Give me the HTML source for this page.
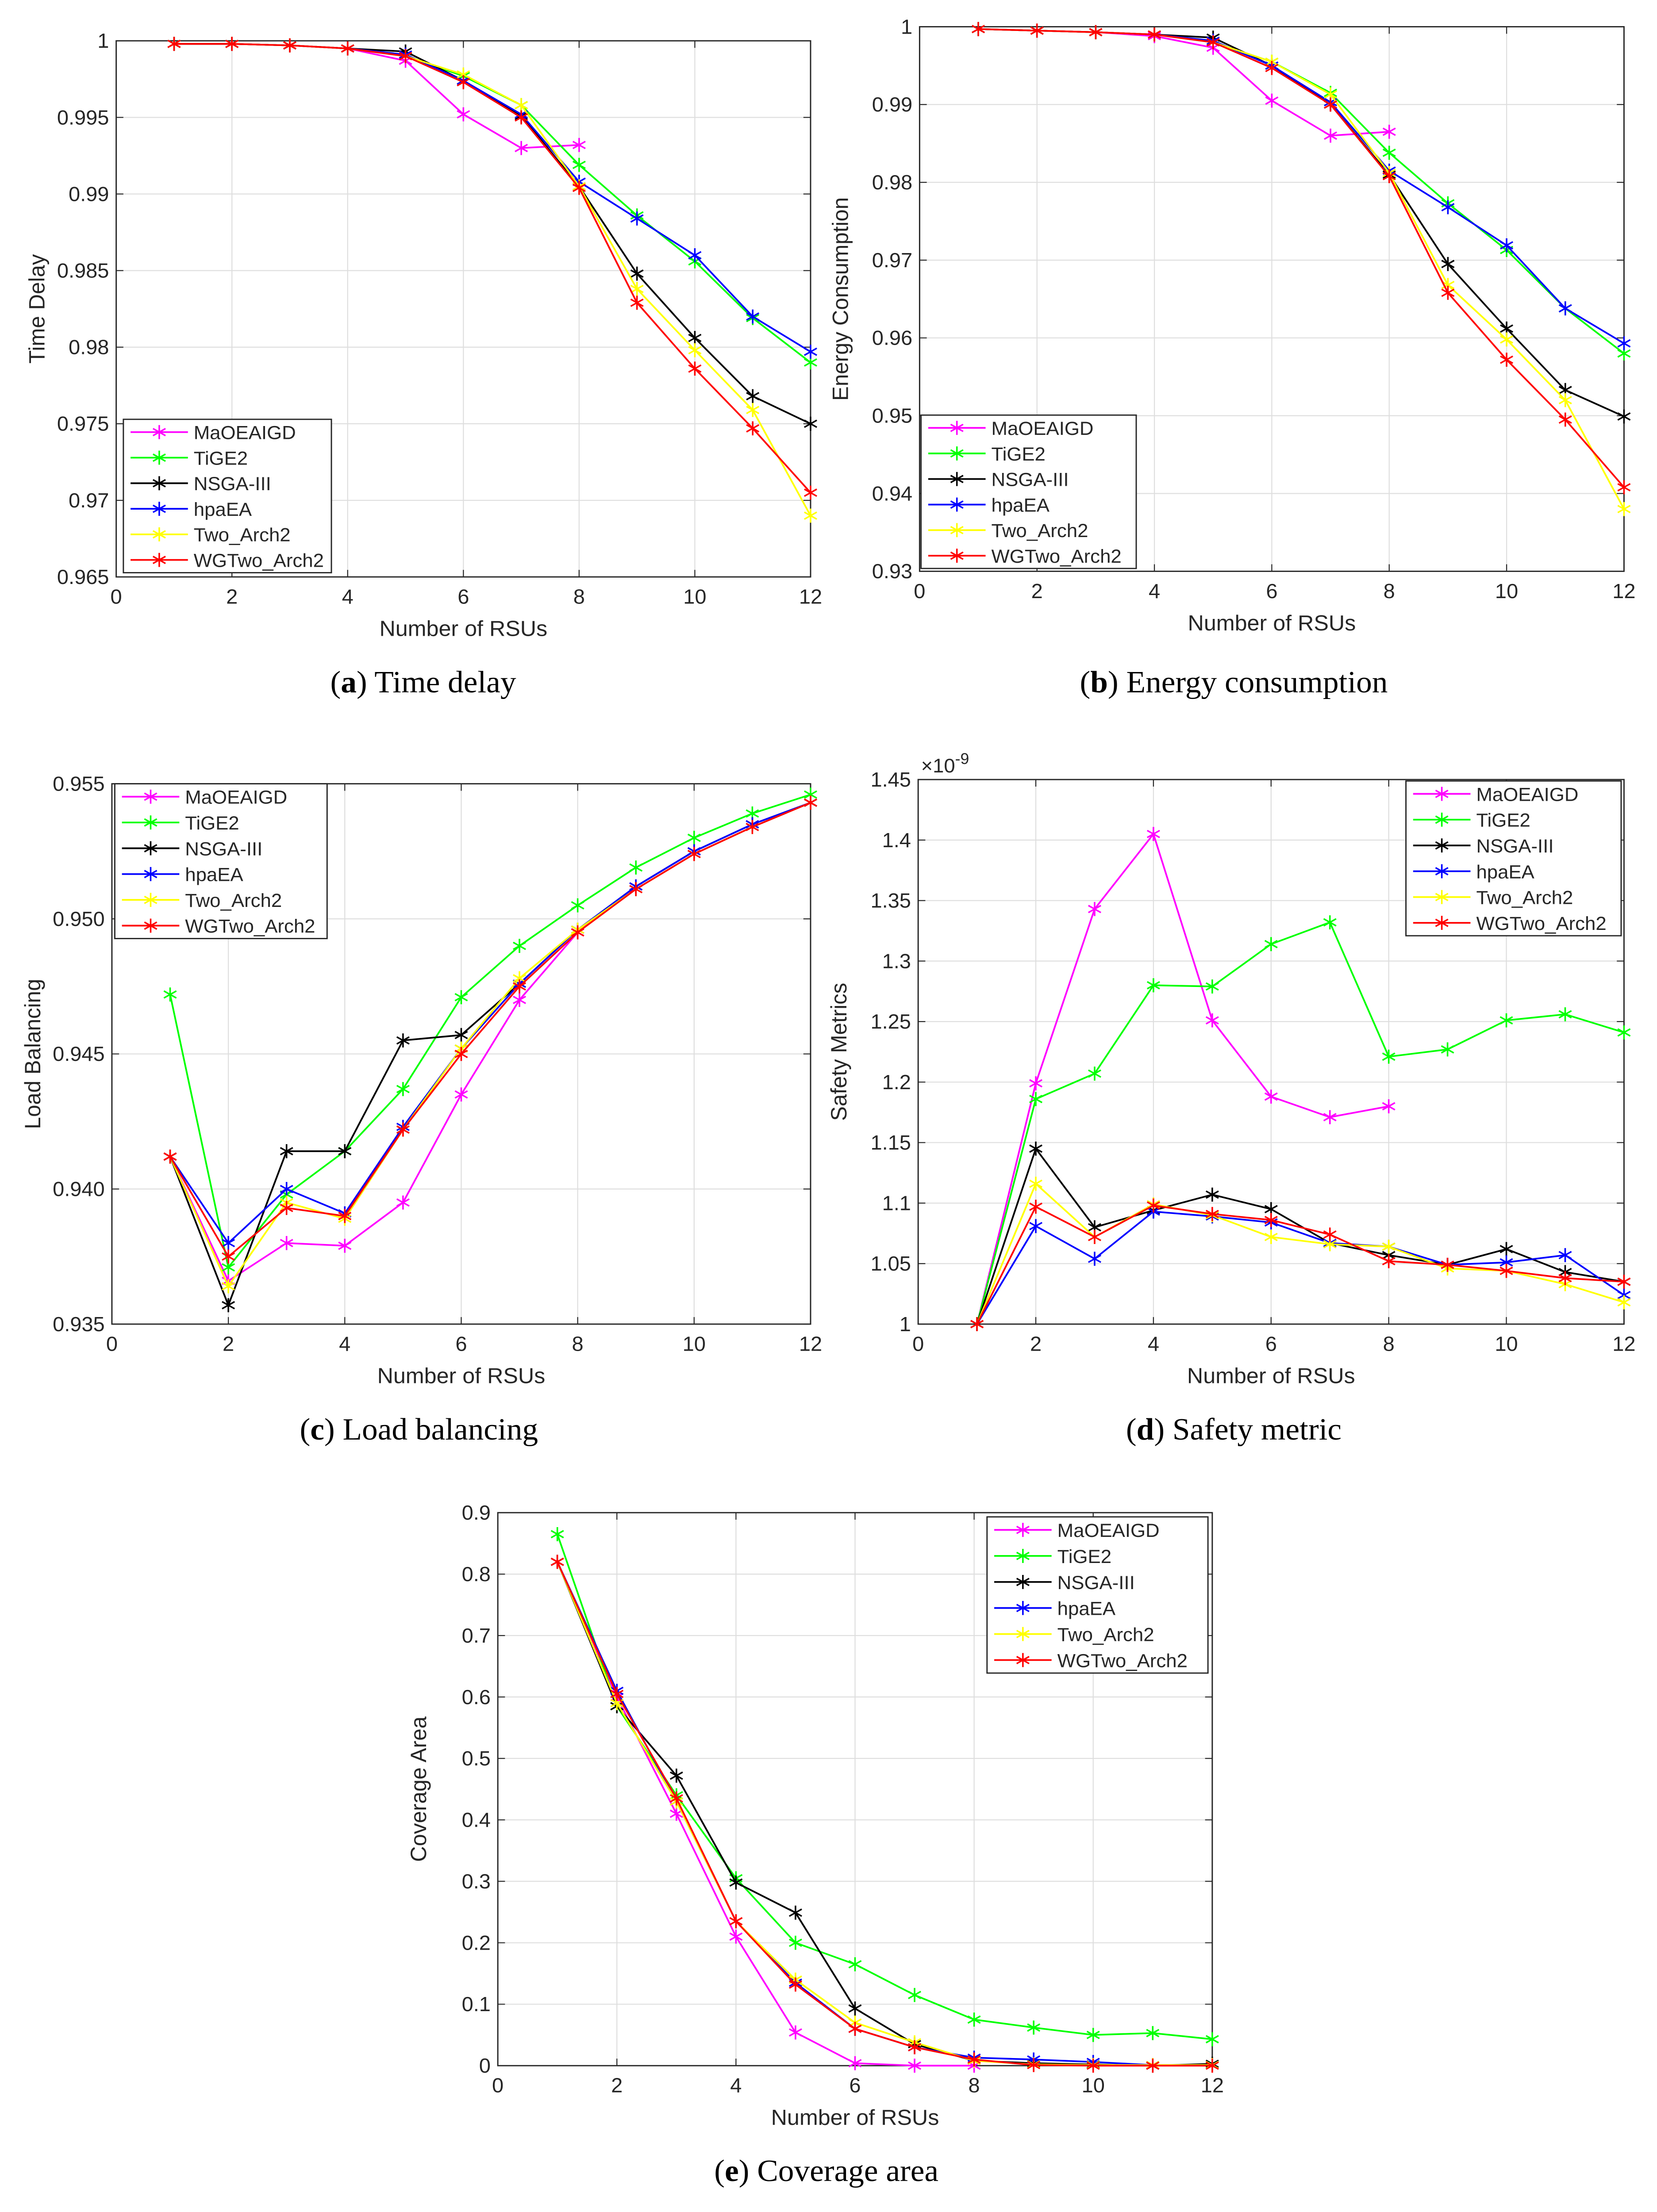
<!DOCTYPE html>
<html><head><meta charset="utf-8"><style>
html,body{margin:0;padding:0;background:#fff;overflow:hidden;width:100%;height:100%;}
svg{display:block;position:absolute;left:0;top:0;width:100vw;height:100vh;}
text{font-family:"Liberation Sans",Arial,sans-serif;fill:#262626;}
.cap{font-family:"Liberation Serif",serif;fill:#000;}
</style></head><body>
<svg id="fig" xmlns="http://www.w3.org/2000/svg" viewBox="0 0 1155 1572" preserveAspectRatio="none"></svg>
<script>
const names = ["MaOEAIGD","TiGE2","NSGA-III","hpaEA","Two_Arch2","WGTwo_Arch2"];
const colors = ["#ff00ff","#00ff00","#000000","#0000ff","#ffff00","#ff0000"];
const xTicks = [0,2,4,6,8,10,12];

const aMa=[.9998,.9998,.9997,.9995,.9987,.9952,.9930,.9932];
const aTi=[.9998,.9998,.9997,.9995,.9990,.9977,.9958,.9919,.9886,.9856,.9819,.9790];
const aNs=[.9998,.9998,.9997,.9995,.9993,.9974,.9951,.9905,.9848,.9806,.9768,.9750];
const aHp=[.9998,.9998,.9997,.9995,.9991,.9974,.9952,.9908,.9884,.9860,.9820,.9797];
const aTw=[.9998,.9998,.9997,.9995,.9990,.9978,.9958,.9905,.9838,.9798,.9759,.9690];
const aWg=[.9998,.9998,.9997,.9995,.9990,.9973,.9950,.9904,.9829,.9786,.9747,.9705];
const aTicks=[0.965,0.97,0.975,0.98,0.985,0.99,0.995,1];

const bMa=[.9997,.9995,.9993,.9988,.9973,.9905,.9860,.9865];
const bTi=[.9997,.9995,.9993,.9990,.9980,.9955,.9915,.9838,.9773,.9713,.9638,.9580];
const bNs=[.9997,.9995,.9993,.9990,.9986,.9950,.9900,.9810,.9695,.9612,.9533,.9499];
const bHp=[.9997,.9995,.9993,.9990,.9982,.9950,.9903,.9815,.9768,.9719,.9638,.9593];
const bTw=[.9997,.9995,.9993,.9990,.9980,.9955,.9913,.9812,.9668,.9598,.9520,.9380];
const bWg=[.9997,.9995,.9993,.9990,.9980,.9947,.9900,.9808,.9658,.9572,.9495,.9408];
const bTicks=[0.93,0.94,0.95,0.96,0.97,0.98,0.99,1];

const cMa=[.9412,.9366,.9380,.9379,.9395,.9435,.9470,.9495,.9512,.9525,.9535,.9543];
const cTi=[.9472,.9371,.9398,.9414,.9437,.9471,.9490,.9505,.9519,.9530,.9539,.9546];
const cNs=[.9412,.9357,.9414,.9414,.9455,.9457,.9476,.9496,.9512,.9525,.9535,.9543];
const cHp=[.9412,.9380,.9400,.9391,.9423,.9452,.9476,.9496,.9512,.9525,.9535,.9543];
const cTw=[.9412,.9364,.9395,.9389,.9422,.9452,.9478,.9496,.9511,.9524,.9534,.9543];
const cWg=[.9412,.9375,.9393,.9390,.9422,.9450,.9475,.9495,.9511,.9524,.9534,.9543];
const cTicks=[0.935,0.94,0.945,0.95,0.955];

const dMa=[1,1.199,1.343,1.405,1.251,1.188,1.171,1.180];
const dTi=[1,1.186,1.207,1.280,1.279,1.314,1.332,1.221,1.227,1.251,1.256,1.241];
const dNs=[1,1.145,1.080,1.094,1.107,1.095,1.067,1.057,1.049,1.062,1.043,1.035];
const dHp=[1,1.081,1.054,1.093,1.089,1.084,1.067,1.064,1.049,1.051,1.057,1.024];
const dTw=[1,1.116,1.072,1.099,1.090,1.072,1.066,1.064,1.046,1.044,1.033,1.018];
const dWg=[1,1.097,1.072,1.098,1.091,1.086,1.074,1.052,1.049,1.044,1.038,1.035];
const dTicks=[1,1.05,1.1,1.15,1.2,1.25,1.3,1.35,1.4,1.45];

const eMa=[.82,.60,.41,.21,.054,.004,0,0];
const eTi=[.865,.585,.44,.305,.20,.165,.115,.075,.062,.05,.053,.043];
const eNs=[.82,.585,.472,.298,.249,.093,.035,.008,.004,.002,0,.003];
const eHp=[.82,.61,.43,.235,.135,.06,.03,.013,.01,.006,.001,.001];
const eTw=[.82,.59,.43,.235,.14,.07,.038,.008,.002,.001,.001,.001];
const eWg=[.82,.605,.435,.235,.132,.06,.03,.01,.001,0,0,0];
const eTicks=[0,0.1,0.2,0.3,0.4,0.5,0.6,0.7,0.8,0.9];

const NS="http://www.w3.org/2000/svg";
const svg=document.getElementById('fig');
function mk(tag,attrs,parent){const e=document.createElementNS(NS,tag);for(const k in attrs)e.setAttribute(k,attrs[k]);(parent||svg).appendChild(e);return e;}

function panel(id,box,yTicks,yFmt,series,ylab,xlab,cap,legend,extra){
  const g=mk('g',{});
  
  
  const [L,R,T,B]=box; const y0=yTicks[0], y1=yTicks[yTicks.length-1];
  const sx=v=>L+(R-L)*v/12, sy=v=>B-(B-T)*(v-y0)/(y1-y0);
  xTicks.forEach(t=>{
    const gl=mk('line',{x1:sx(t),x2:sx(t),y1:T,y2:B,stroke:'#dedede','stroke-width':0.7},g);
    
    mk('line',{x1:sx(t),x2:sx(t),y1:B,y2:B-5,stroke:'#262626','stroke-width':0.7},g);
    mk('line',{x1:sx(t),x2:sx(t),y1:T,y2:T+5,stroke:'#262626','stroke-width':0.7},g);
    const tx=mk('text',{x:sx(t),y:B+19,'font-size':14.5,'text-anchor':'middle'},g);tx.textContent=t;
    
  });
  yTicks.forEach(t=>{
    const gl=mk('line',{x1:L,x2:R,y1:sy(t),y2:sy(t),stroke:'#dedede','stroke-width':0.7},g);
    
    mk('line',{x1:L,x2:L+5,y1:sy(t),y2:sy(t),stroke:'#262626','stroke-width':0.7},g);
    mk('line',{x1:R,x2:R-5,y1:sy(t),y2:sy(t),stroke:'#262626','stroke-width':0.7},g);
    const tx=mk('text',{x:L-5,y:sy(t)+5,'font-size':14.5,'text-anchor':'end'},g);tx.textContent=yFmt(t);
    
  });
  const fr=mk('rect',{x:L,y:T,width:R-L,height:B-T,fill:'none',stroke:'#262626','stroke-width':0.9},g);
  
  series.forEach((d,i)=>{
    const pts=d.map((v,j)=>sx(j+1)+','+sy(v)).join(' ');
    const pl=mk('polyline',{points:pts,fill:'none',stroke:colors[i],'stroke-width':1.2},g);
    
    
    d.forEach((v,j)=>star(g,sx(j+1),sy(v),colors[i],names[i]));
  });
  const xl=mk('text',{x:(L+R)/2,y:B+42,'font-size':15.5,'text-anchor':'middle'},g);xl.textContent=xlab;
  
  const yx=L-50, yy=(T+B)/2;
  const yl=mk('text',{x:yx,y:yy,'font-size':15.5,'text-anchor':'middle',transform:`rotate(-90 ${yx} ${yy})`},g);yl.textContent=ylab;
  
  const c=mk('text',{x:cap[0],y:cap[1],'font-size':22,'text-anchor':'middle',class:'cap'},g);
  c.innerHTML='(<tspan font-weight="bold">'+cap[2]+'</tspan>) '+cap[3];
  
  const [lx,ly,lw,lh]=legend;
  const lg=mk('g',{},g);
  
  mk('rect',{x:lx,y:ly,width:lw,height:lh,fill:'#fff',stroke:'#262626','stroke-width':0.9},lg);
  const step=lh/6;
  names.forEach((n,i)=>{
    const yy2=ly+step*(i+0.5);
    const e=mk('g',{},lg);
    
    mk('line',{x1:lx+5,x2:lx+45,y1:yy2,y2:yy2,stroke:colors[i],'stroke-width':1.2},e);
    star(e,lx+25,yy2,colors[i],n);
    const t=mk('text',{x:lx+49,y:yy2+5,'font-size':13.5,fill:'#000'},e);t.textContent=n;
  });
  if(extra) extra(g,L,T);
}
function star(p,x,y,c,n){
  const s=5;
  const g=mk('g',{stroke:c,'stroke-width':1.1},p);
  
  
  mk('line',{x1:x,x2:x,y1:y-s,y2:y+s},g);
  mk('line',{x1:x-s*0.87,x2:x+s*0.87,y1:y-s*0.5,y2:y+s*0.5},g);
  mk('line',{x1:x-s*0.87,x2:x+s*0.87,y1:y+s*0.5,y2:y-s*0.5},g);
}
const f3=t=>(t===1?'1':String(+t.toFixed(3)));
panel('time-delay',[81,565,29,410],aTicks,f3,[aMa,aTi,aNs,aHp,aTw,aWg],'Time Delay','Number of RSUs',[295,492,'a','Time delay'],[86,298,145,109]);
panel('energy',[641,1132,19,406],bTicks,t=>(t===1?'1':t.toFixed(2)),[bMa,bTi,bNs,bHp,bTw,bWg],'Energy Consumption','Number of RSUs',[860,492,'b','Energy consumption'],[642,295,150,109]);
panel('load-balancing',[78,565,557,941],cTicks,t=>t.toFixed(3),[cMa,cTi,cNs,cHp,cTw,cWg],'Load Balancing','Number of RSUs',[292,1023,'c','Load balancing'],[80,557,148,110]);
panel('safety',[640,1132,554,941],dTicks,t=>String(+t.toFixed(2)),[dMa,dTi,dNs,dHp,dTw,dWg],'Safety Metrics','Number of RSUs',[860,1023,'d','Safety metric'],[980,555,150,110],
  (g,L,T)=>{const t=mk('text',{x:L+2,y:T-5,'font-size':14},g);t.innerHTML='×10<tspan dy="-6" font-size="11">-9</tspan>';
    });
panel('coverage',[347,845,1075,1468],eTicks,t=>(t===0?'0':String(+t.toFixed(1))),[eMa,eTi,eNs,eHp,eTw,eWg],'Coverage Area','Number of RSUs',[576,1550,'e','Coverage area'],[688,1078,154,111]);
</script>
</body></html>
